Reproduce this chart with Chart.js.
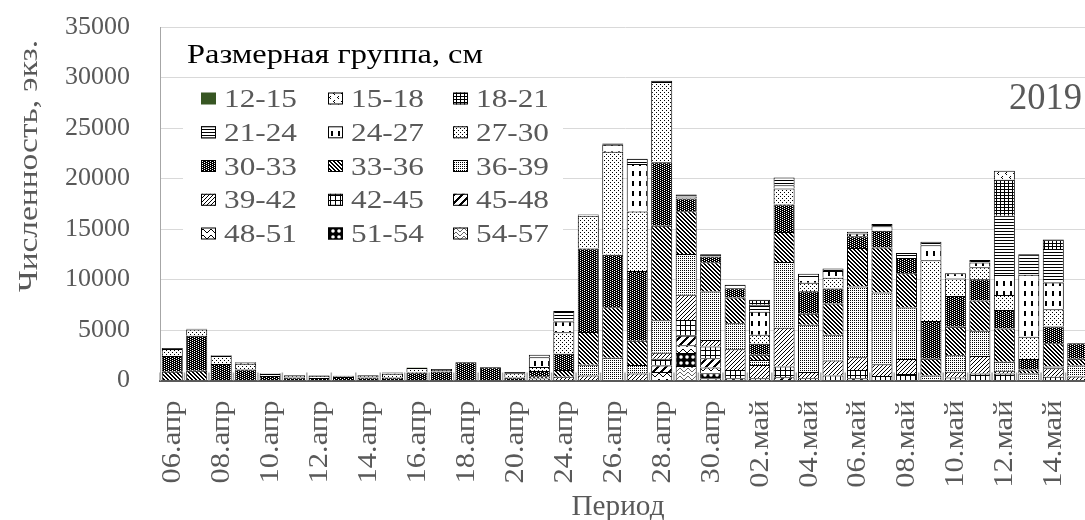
<!DOCTYPE html>
<html><head><meta charset="utf-8">
<script src="https://cdn.jsdelivr.net/npm/chart.js@4/dist/chart.umd.min.js"></script>
<style>html,body{margin:0;padding:0;overflow:hidden;background:#fff;width:1085px;height:520px}canvas{display:block}</style>
</head><body>
<canvas id="c" width="1090" height="520" style="width:1090px;height:520px"></canvas>
<script>
const categories = ['06.апр','07.апр','08.апр','09.апр','10.апр','11.апр','12.апр','13.апр','14.апр','15.апр','16.апр','17.апр','18.апр','19.апр','20.апр','22.апр','24.апр','25.апр','26.апр','27.апр','28.апр','29.апр','30.апр','01.май','02.май','03.май','04.май','05.май','06.май','07.май','08.май','09.май','10.май','11.май','12.май','13.май','14.май','15.май'];
const sizeGroups = ['12-15','15-18','18-21','21-24','24-27','27-30','30-33','33-36','36-39','39-42','42-45','45-48','48-51','51-54','54-57'];
const s12_15 = [0,0,0,0,0,0,0,0,0,0, 60,0,0,0,0,0,0,0,0,0, 0,0,0,0,0,0,0,0,0,0, 0,0,0,0,0,0,0,0];
const s15_18 = [0,0,0,0,0,0,0,0,0,0, 0,0,0,0,0,0,0,0,0,0, 0,0,0,0,0,0,0,0,0,0, 0,0,0,0,890,0,0,0];
const s18_21 = [0,0,0,0,0,0,0,0,0,0, 0,0,0,0,0,0,0,0,0,0, 0,0,0,0,500,0,0,0,0,0, 0,0,0,0,3570,0,930,0];
const s21_24 = [100,80,80,80,80,60,60,50,60,60, 0,90,40,40,110,250,1060,130,130,530, 130,200,230,330,690,760,230,260,170,230, 500,330,0,260,5850,2050,3310,0];
const s24_27 = [0,0,0,100,0,0,0,0,0,40, 0,0,0,0,0,970,1050,0,700,4700, 0,0,0,0,2280,330,660,660,270,430, 0,1490,500,460,1980,6120,2650,0];
const s27_30 = [690,600,780,550,200,180,220,60,180,380, 430,150,0,0,420,400,2120,3240,10190,5880, 7940,200,0,0,890,1590,860,1060,0,0, 0,6020,1750,1190,1490,2210,1720,0];
const s30_33 = [1560,3470,1640,1100,450,300,250,350,300,300, 800,900,1800,1300,300,500,1620,8270,5190,6910, 6290,1260,560,930,1090,2710,2210,1490,1160,1650, 1490,3740,3040,2120,1820,1030,1650,1550];
const s33_36 = [870,970,0,0,0,0,0,0,0,0, 0,0,0,0,0,230,670,3240,5000,2410, 9360,4230,2910,2540,500,2980,1090,3080,3810,4470, 3410,1650,2810,2980,3310,400,2310,660];
const s36_39 = [0,0,0,0,0,0,0,0,0,0, 0,0,0,0,0,0,0,1060,2260,830, 3210,4040,4790,2580,500,6500,4700,2550,7000,7100, 5090,500,1650,2510,890,700,170,1090];
const s39_42 = [0,0,0,0,0,0,0,0,0,0, 0,0,0,0,0,200,370,500,0,700, 600,2510,660,2050,1320,3840,600,1490,1260,1160, 1490,0,560,1720,260,0,830,400];
const s42_45 = [0,0,0,0,0,0,0,0,0,0, 0,0,0,0,0,0,0,0,0,0, 660,1560,1150,820,220,1060,230,500,830,450, 640,0,300,700,700,0,380,0];
const s45_48 = [0,0,0,0,0,0,0,0,0,0, 0,0,0,0,0,0,0,0,0,0, 660,920,930,220,0,330,0,0,220,0, 0,0,0,0,0,0,0,0];
const s48_51 = [0,0,0,0,0,0,0,0,0,0, 0,0,0,0,0,0,0,0,0,0, 830,770,560,0,0,0,0,0,0,0, 0,0,0,0,0,0,0,0];
const s51_54 = [0,0,0,0,0,0,0,0,0,0, 0,0,0,0,0,0,0,0,0,0, 0,1290,500,0,0,0,0,0,0,0, 0,0,0,0,0,0,0,0];
const s54_57 = [0,0,0,0,0,0,0,0,0,0, 0,0,0,0,0,0,0,0,0,0, 0,1440,220,0,0,0,0,0,0,0, 0,0,0,0,0,0,0,0];
const seriesValues = [s12_15,s15_18,s18_21,s21_24,s24_27,s27_30,s30_33,s33_36,s36_39,s39_42,s42_45,s45_48,s48_51,s51_54,s54_57];
const yMin = 0, yMax = 35000, yStep = 5000;
const legendTitle = 'Размерная группа, см';
const yTitle = 'Численность, экз.';
const xTitle = 'Период';
const yearLabel = '2019';

const FONT = '"Liberation Serif", "Times New Roman", serif';
const GRAY = '#595959';
Chart.defaults.font.family = FONT;

function pat(w,h,fn){const c=document.createElement('canvas');c.width=w;c.height=h;const g=c.getContext('2d');g.fillStyle='#fff';g.fillRect(0,0,w,h);g.fillStyle='#000';fn(g,w,h);return g.createPattern(c,'repeat');}
const px=(g,x,y)=>g.fillRect(x,y,1,1);
const patterns = [
  '#375623',
  pat(8,8,g=>{px(g,2,0);px(g,1,1);px(g,2,2);px(g,6,4);px(g,5,5);px(g,6,6);}),
  pat(4,3,g=>{g.fillRect(0,0,4,1);g.fillRect(0,0,1,3);}),
  pat(4,3,g=>{g.fillRect(0,0,4,1);}),
  pat(7,10,g=>{g.fillRect(2,1,2,5);}),
  pat(4,4,g=>{px(g,0,0);px(g,2,2);}),
  pat(4,2,g=>{g.fillRect(0,0,4,2);g.fillStyle='#fff';px(g,0,0);px(g,2,1);}),
  pat(4,4,g=>{for(let i=0;i<4;i++){px(g,i,i);px(g,(i+1)%4,i);}}),
  pat(2,2,g=>{px(g,0,0);}),
  pat(4,4,g=>{for(let i=0;i<4;i++){px(g,i,3-i);}}),
  pat(5,5,g=>{g.fillRect(0,0,5,1);g.fillRect(0,0,1,5);}),
  pat(8,8,g=>{for(let i=0;i<8;i++)for(let k=0;k<3;k++)px(g,(i+k)%8,7-i);}),
  pat(8,6,g=>{const ys=[3,2,1,1,2,3,4,4];for(let x=0;x<8;x++)px(g,x,ys[x]);}),
  pat(6,6,g=>{g.fillRect(0,0,6,6);g.fillStyle='#fff';g.beginPath();g.arc(3,3,1.8,0,2*Math.PI);g.fill();}),
  pat(8,8,g=>{g.fillStyle='#666';for(let x=0;x<8;x++){const y=x<4?x:7-x;px(g,x,y);px(g,x,(y+4)%8);}})
];

const datasets = sizeGroups.map((name,i)=>({
  label:name, data:seriesValues[i], backgroundColor:patterns[i],
  borderColor: i===0 ? '#375623' : '#000',
  borderWidth:{top:1,left:1,right:1,bottom:0}, borderSkipped:false,
  barPercentage:0.86, categoryPercentage:1, stack:'a'
})).reverse();

function txt(ctx,s,x,y,k,align,rot){
  ctx.save(); ctx.translate(x,y); if(rot) ctx.rotate(rot); ctx.scale(k,1);
  ctx.textAlign=align; ctx.fillText(s,0,0); ctx.restore();
}
function fitK(ctx,s,target){return target/ctx.measureText(s).width;}

const deco = {
  id:'deco',
  beforeDatasetsDraw(chart){
    const xs=chart.scales.x, ctx=chart.ctx, b=chart.chartArea.bottom;
    const half=(xs.getPixelForValue(1)-xs.getPixelForValue(0))/2;
    ctx.save(); ctx.strokeStyle='#a6a6a6'; ctx.lineWidth=1.5;
    for(let i=0;i<=categories.length;i++){
      const x=xs.getPixelForValue(0)-half+2*half*i;
      ctx.beginPath(); ctx.moveTo(x,b-8); ctx.lineTo(x,b); ctx.stroke();
    }
    ctx.restore();
  },
  afterDraw(chart){
    const ctx=chart.ctx, xs=chart.scales.x;
    ctx.save();
    ctx.textBaseline='alphabetic';
    ctx.fillStyle='#fff'; ctx.fillRect(183,82,380,170);
    ctx.fillStyle='#000'; ctx.font='27px '+FONT;
    txt(ctx,legendTitle,187,63,fitK(ctx,legendTitle,296),'left');
    const colX=[201,328,453], rowY=[98.5,132.3,166,199.8,233.5];
    ctx.font='26px '+FONT;
    const kLeg=fitK(ctx,'12-15',73);
    sizeGroups.forEach((name,i)=>{
      const r=Math.floor(i/3), c=i%3, x=colX[c], y=rowY[r];
      ctx.fillStyle=patterns[i]; ctx.fillRect(x,y-6,15,12);
      if(i>0){ctx.strokeStyle='#000';ctx.lineWidth=1;ctx.strokeRect(x+0.5,y-5.5,14,11);}
      ctx.fillStyle=GRAY; txt(ctx,name,x+23,y+8.5,kLeg,'left');
    });
    ctx.font='38px '+FONT; ctx.fillStyle=GRAY;
    txt(ctx,yearLabel,1082,109,fitK(ctx,yearLabel,73),'right');
    ctx.font='28px '+FONT;
    txt(ctx,yTitle,37,166,fitK(ctx,yTitle,252),'center',-Math.PI/2);
    ctx.font='30px '+FONT;
    txt(ctx,xTitle,618,515,fitK(ctx,xTitle,93),'center');
    ctx.font='26.5px '+FONT; ctx.textBaseline='middle';
    const kx=fitK(ctx,'24.апр',83);
    categories.forEach((c,i)=>{
      if(i%2) return;
      const x=xs.getPixelForValue(i);
      txt(ctx,c,x+1,400.5,kx,'right',-Math.PI/2);
    });
    ctx.restore();
  }
};

const chart = new Chart(document.getElementById('c'),{
  type:'bar',
  data:{labels:categories,datasets},
  options:{
    responsive:false, animation:false, devicePixelRatio:1,
    layout:{padding:{top:27,right:0,left:0,bottom:0}},
    plugins:{legend:{display:false},tooltip:{enabled:false}},
    scales:{
      x:{stacked:true, grid:{display:false}, border:{color:'#595959',width:2},
         ticks:{display:false}, afterFit:s=>{s.height=139.5;}},
      y:{stacked:true, min:yMin, max:yMax,
         ticks:{stepSize:yStep, font:{size:26,family:FONT}, color:GRAY, padding:30, callback:v=>String(v)},
         grid:{color:'#d9d9d9', lineWidth:1, drawTicks:false},
         border:{color:'#a6a6a6',width:1},
         afterFit:s=>{s.width=160; s.paddingTop=0; s.paddingBottom=0;}}
    }
  },
  plugins:[deco]
});
</script>
</body></html>
